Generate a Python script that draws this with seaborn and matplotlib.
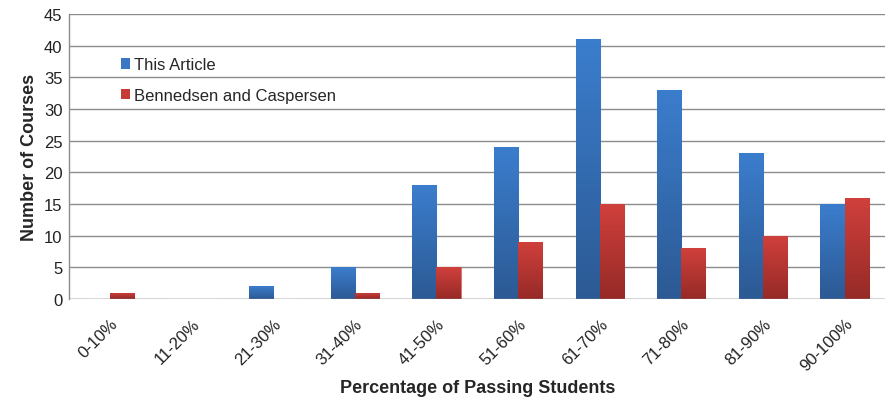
import numpy as np
import pandas as pd
import matplotlib
matplotlib.use("Agg")
import matplotlib.pyplot as plt
import seaborn as sns
from matplotlib.colors import LinearSegmentedColormap
from matplotlib.patches import Patch

# chart data
categories = ["0-10%", "11-20%", "21-30%", "31-40%", "41-50%",
              "51-60%", "61-70%", "71-80%", "81-90%", "90-100%"]
this_article = [0, 0, 2, 5, 18, 24, 41, 33, 23, 15]
bennedsen = [1, 0, 0, 1, 5, 9, 15, 8, 10, 16]
series_names = ["This Article", "Bennedsen and Caspersen"]

df = pd.DataFrame({
    "Range": categories * 2,
    "Courses": this_article + bennedsen,
    "Series": [series_names[0]] * len(categories) + [series_names[1]] * len(categories),
})

sns.set_style("white")
plt.rcParams["font.family"] = ["Liberation Sans", "DejaVu Sans"]

fig = plt.figure(figsize=(8.88, 4.02), dpi=100)
ax = fig.add_axes([0.078, 0.254, 0.919, 0.709])

colors = {"This Article": "#3a78c6", "Bennedsen and Caspersen": "#c63a37"}
sns.barplot(data=df, x="Range", y="Courses", hue="Series", palette=colors,
            width=0.59, ax=ax, saturation=1, legend=False, zorder=3)

# vertical gradient fill for each bar (lighter top, darker bottom)
grad = {
    "#3a78c6": LinearSegmentedColormap.from_list("b", ["#2c5a94", "#3b7dcd"]),
    "#c63a37": LinearSegmentedColormap.from_list("r", ["#962a27", "#d0403c"]),
}
gimg = np.linspace(0, 1, 64).reshape(-1, 1)
for p in list(ax.patches):
    h = p.get_height()
    if h <= 0:
        continue
    fc = matplotlib.colors.to_hex(p.get_facecolor())
    cmap = grad.get(fc)
    if cmap is None:
        continue
    x0 = p.get_x()
    w = p.get_width()
    im = ax.imshow(gimg, cmap=cmap, origin="lower", aspect="auto",
                   extent=[x0, x0 + w, 0, h], zorder=3.5)
    im.set_clip_path(p)
    p.set_edgecolor(matplotlib.colors.to_rgba(fc, 0.35))
    p.set_linewidth(0.8)

ax.set_xlim(-0.5, len(categories) - 0.5)
ax.set_ylim(0, 45)
ax.set_yticks(range(0, 46, 5))
ax.yaxis.grid(True, color="#8c8c8c", linewidth=1.0, zorder=0)
ax.set_axisbelow(True)

for side in ["top", "right", "bottom"]:
    ax.spines[side].set_visible(False)
ax.spines["left"].set_color("#8c8c8c")
ax.spines["left"].set_linewidth(1.0)
ax.axhline(0, color="#8c8c8c", linewidth=1.0, zorder=4)

# x ticks: labels at centers, tick marks at category boundaries
ax.set_xticks(range(len(categories)))
ax.set_xticklabels(categories, rotation=45, ha="right", rotation_mode="anchor",
                   fontsize=12, color="#222222")
ax.tick_params(axis="x", length=0, pad=12)
ax.set_xticks(np.arange(-0.5, len(categories), 1), minor=True)
ax.tick_params(axis="x", which="minor", length=5, color="#8c8c8c", width=1)
ax.tick_params(axis="y", length=0, labelsize=12, labelcolor="#222222", pad=5)

ax.set_xlabel("Percentage of Passing Students", fontsize=13, fontweight="bold", labelpad=4)
ax.set_ylabel("Number of Courses", fontsize=13, fontweight="bold", labelpad=4)

# legend inside the plot, no frame
handles = [Patch(facecolor=colors[n], edgecolor="none") for n in series_names]
ax.legend(handles, series_names, loc="upper left", bbox_to_anchor=(0.045, 0.9),
          frameon=False, fontsize=12, handlelength=0.55, handleheight=0.55,
          handletextpad=0.25, labelspacing=0.95)

fig.savefig("out.png", dpi=100)
